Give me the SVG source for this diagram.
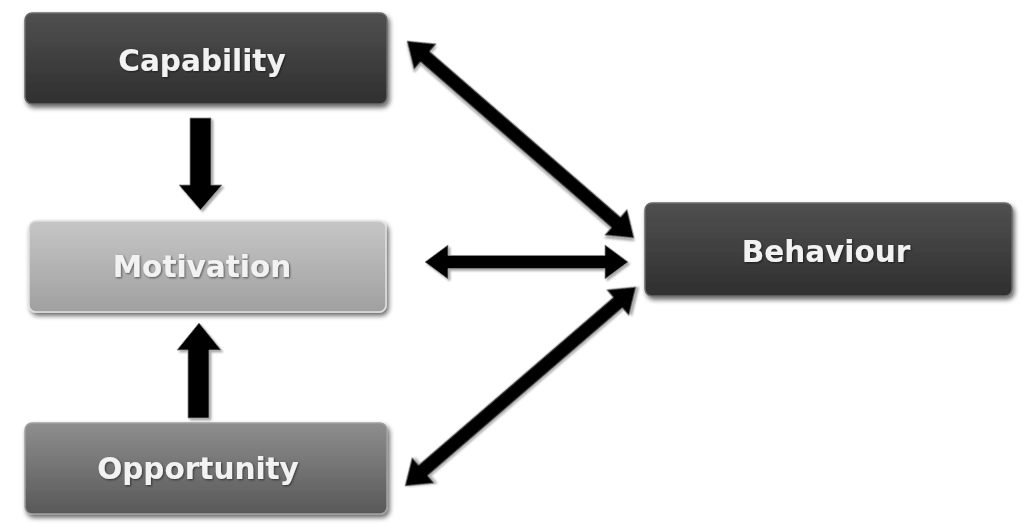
<svg xmlns="http://www.w3.org/2000/svg" width="1024" height="529" viewBox="0 0 1024 529">
  <defs>
    <linearGradient id="gDark" x1="0" y1="0" x2="0" y2="1">
      <stop offset="0" stop-color="#505050"/>
      <stop offset="1" stop-color="#2f2f2f"/>
    </linearGradient>
    <linearGradient id="gLight" x1="0" y1="0" x2="0" y2="1">
      <stop offset="0" stop-color="#c6c6c6"/>
      <stop offset="1" stop-color="#a0a0a0"/>
    </linearGradient>
    <linearGradient id="gMid" x1="0" y1="0" x2="0" y2="1">
      <stop offset="0" stop-color="#8e8e8e"/>
      <stop offset="1" stop-color="#585858"/>
    </linearGradient>
    <filter id="shadow" x="-10%" y="-20%" width="125%" height="150%">
      <feGaussianBlur in="SourceAlpha" stdDeviation="2.5"/>
      <feOffset dx="2" dy="3" result="b"/>
      <feComponentTransfer><feFuncA type="linear" slope="0.6"/></feComponentTransfer>
      <feMerge><feMergeNode/><feMergeNode in="SourceGraphic"/></feMerge>
    </filter>
    <filter id="tshadow" x="-10%" y="-30%" width="120%" height="160%">
      <feGaussianBlur in="SourceAlpha" stdDeviation="1"/>
      <feOffset dx="1" dy="1"/>
      <feComponentTransfer><feFuncA type="linear" slope="0.55"/></feComponentTransfer>
      <feMerge><feMergeNode/><feMergeNode in="SourceGraphic"/></feMerge>
    </filter>
    <filter id="ashadow" x="-10%" y="-10%" width="120%" height="120%">
      <feGaussianBlur in="SourceAlpha" stdDeviation="1"/>
      <feOffset dx="1.5" dy="1.5"/>
      <feComponentTransfer><feFuncA type="linear" slope="0.35"/></feComponentTransfer>
      <feMerge><feMergeNode/><feMergeNode in="SourceGraphic"/></feMerge>
    </filter>
  </defs>
  <style>
    .box { stroke-width: 1.5; filter: url(#shadow); }
    .dark { fill: url(#gDark); stroke: #6a6a6a; }
    .light { fill: url(#gLight); stroke: #e0e0e0; }
    .mid { fill: url(#gMid); stroke: #a0a0a0; }
    .lbl { font-family: "DejaVu Sans", Verdana, sans-serif; font-weight: bold; font-size: 29.5px; fill: #f2f2f2; text-anchor: middle; filter: url(#tshadow); }
    .arrow { fill: #000; stroke: #8a8a8a; stroke-width: 0.8; filter: url(#ashadow); }
  </style>
  <rect width="1024" height="529" fill="#ffffff"/>

  <g id="capability">
    <rect class="box dark" x="25" y="13" width="362" height="91" rx="7"/>
    <text class="lbl" x="202" y="71">Capability</text>
  </g>
  <g id="motivation">
    <rect class="box light" x="29" y="221" width="357" height="91" rx="7"/>
    <text class="lbl" x="202" y="277" fill="#f8f8f8">Motivation</text>
  </g>
  <g id="opportunity">
    <rect class="box mid" x="25" y="423" width="362" height="91" rx="7"/>
    <text class="lbl" x="198" y="479">Opportunity</text>
  </g>
  <g id="behaviour">
    <rect class="box dark" x="645" y="203" width="367" height="93" rx="7"/>
    <text class="lbl" x="826" y="262">Behaviour</text>
  </g>

  <g id="connectors">
    <polygon class="arrow" points="190,118 211,118 211,185 222,185 200.5,210 179,185 190,185"/>
    <polygon class="arrow" points="199,323 221,350 209,350 209,418 188,418 188,350 177,350"/>
    <polygon class="arrow" transform="translate(425,262)" points="0,0 23,-17 23,-6.5 180,-6.5 180,-17 203,0 180,17 180,6.5 23,6.5 23,17"/>
    <polygon class="arrow" transform="translate(407,41) rotate(40.95)" points="0,0 24,-17 24,-7 276.6,-7 276.6,-17 300.6,0 276.6,17 276.6,7 24,7 24,17"/>
    <polygon class="arrow" transform="translate(405,486) rotate(-40.75)" points="0,0 24,-17 24,-7 280.9,-7 280.9,-17 304.9,0 280.9,17 280.9,7 24,7 24,17"/>
  </g>
</svg>
